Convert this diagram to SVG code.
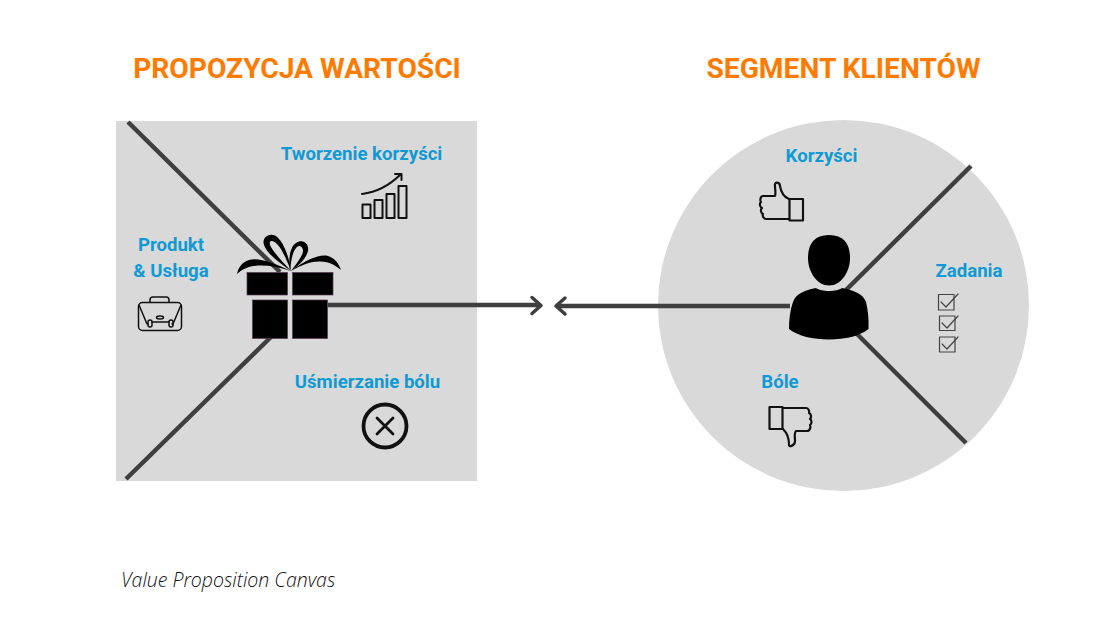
<svg xmlns="http://www.w3.org/2000/svg" width="1120" height="630" viewBox="0 0 1120 630">
<style>
.h{font-family:Roboto,"Liberation Sans",sans-serif;font-weight:700;font-size:28.200px;fill:#ff7a00;text-anchor:middle}
.l{font-family:Roboto,"Liberation Sans",sans-serif;font-weight:700;font-size:18.600px;fill:#0f9ad6;text-anchor:middle}
.c{font-family:"Open Sans","Liberation Sans",sans-serif;font-style:italic;font-weight:300;font-size:19.500px;fill:#111}
.ln{stroke:#3f3f3f;stroke-width:4.500;fill:none}
.a{stroke:#3f3f3f;stroke-width:3.500;fill:none;stroke-linecap:round;stroke-linejoin:round}
.i{stroke:#111;stroke-width:2;fill:none;stroke-linejoin:round;stroke-linecap:round}
.g{fill:#000;stroke:#5a3a55;stroke-width:.7}
</style>
<rect width="1120" height="630" fill="#fff"/>
<g id="canvas-shapes">
<rect x="116" y="121" width="361" height="360" fill="#d9d9d9"/>
<circle cx="843.500" cy="305.500" r="185.500" fill="#d9d9d9"/>
</g>
<g id="connectors">
<path class="ln" d="M128 122L280 272M126 479L273 335M328 305H539"/>
<path class="a" d="M532 297.500L541 305.500L532 313.500"/>
<path class="ln" d="M558 306H790M971 166L846 290M966 443L855 332"/>
<path class="a" d="M565 298L556 306L565 314"/>
</g>
<g id="title-value"><text class="h" x="297" y="78">PROPOZYCJA WARTOŚCI</text></g>
<g id="title-segment"><text class="h" x="843.500" y="78">SEGMENT KLIENTÓW</text></g>
<g id="gift">
<rect class="g" x="247" y="272.500" width="40.500" height="22.500"/>
<rect class="g" x="292.500" y="272.500" width="40.500" height="22.500"/>
<rect class="g" x="252.500" y="300" width="35" height="38.500"/>
<rect class="g" x="292.500" y="300" width="35" height="38.500"/>
<path fill="#000" d="M291 271C275 263 258 257 249 260C242 262 238 268 237 274C243 268 250 266 258 265.500C268 265 280 267 291 271Z"/>
<path fill="#000" d="M291 271C307 259 320 254 328 256C335 258 339 264 341 270C335 265 330 262 320 261.500C310 261 300 266 291 271Z"/>
<path fill="#000" d="M291 271C278 262 265 252 263.500 243C263 236 270 233 275 235.500C283 240 289 256 291 271C286 258 281 247 276 243C271 239.500 269 241 270 245C273 252 283 262 291 271Z"/>
<path fill="#000" d="M290 271C288 258 290 244 299 241.500C306 240 309 246 308 251C306 259 298 266 291 271C297 263 303.500 255 303 250C302 245 298 245 296 248C292 253 291 262 290 271Z"/>
</g>
<g id="tworzenie">
<text class="l" x="361.500" y="160">Tworzenie korzyści</text>
<g class="i"><rect x="362.500" y="204.500" width="8" height="13.500"/><rect x="374.500" y="200" width="8" height="18"/><rect x="386.500" y="194" width="8" height="24"/><rect x="398.500" y="186" width="8" height="32"/>
<path d="M362 194C378 192 390 185 401 174M395 174L401.500 174L401.500 180"/></g>
</g>
<g id="produkt">
<text class="l" x="171" y="251">Produkt</text>
<text class="l" x="171" y="277">&amp; Usługa</text>
<g class="i" style="stroke-width:1.500"><rect x="138.500" y="302.500" width="43" height="28" rx="4"/><path d="M150 302V300Q150 297 153 297H166Q169 297 169 300V302M139 305L147 324H148M181 305L173 324H172M152 322H169"/><rect x="148" y="320" width="4" height="7" rx="2"/><rect x="169" y="320" width="4" height="7" rx="2"/><ellipse cx="160" cy="317.500" rx="3.500" ry="1.500"/></g>
</g>
<g id="usmierzanie">
<text class="l" x="367.500" y="388">Uśmierzanie bólu</text>
<g class="i"><circle cx="385" cy="426" r="21.500" style="stroke-width:3.800"/><path d="M377 418L393 434M393 418L377 434" style="stroke-width:2.800"/></g>
</g>
<g id="korzysci">
<text class="l" x="821.500" y="162">Korzyści</text>
<g class="i" style="stroke-width:2.200"><rect x="789.500" y="199" width="13.500" height="21.500"/><path d="M789 199C784 197 781 192 780 186C780 182 774 181 775 186C775 190 776 193 775 196H763C760 196 760 201 761 202C759 204 760 207 762 208C760 210 761 213 763 214C762 216 764 219 766 219H789"/></g>
</g>
<g id="person">
<path fill="#000" d="M829 235C844 235 850 244 850 258C850 272 841 285.500 829 285.500C817 285.500 808 272 808 258C808 244 814 235 829 235Z"/>
<path fill="#000" d="M816 288C821 292 837 292 842 288C852 290 863 293 866 302C868 310 869 320 868.500 329C860 336 845 339.500 829 339.500C813 339.500 798 336 789 329C789 320 790 310 793 302C796 293 806 290 816 288Z"/>
</g>
<g id="zadania">
<text class="l" x="969" y="277">Zadania</text>
<g class="i" style="stroke-width:1.200;stroke:#444"><rect x="938.500" y="294.500" width="15.500" height="15.500"/><path d="M941 302L946 307L958 294"/><rect x="939.500" y="316" width="15.500" height="14.500"/><path d="M942 323L947 328L958 316"/><rect x="939.500" y="337" width="15.500" height="15"/><path d="M942 344L947 349L958 337"/></g>
</g>
<g id="bole">
<text class="l" x="780" y="388">Bóle</text>
<g class="i" style="stroke-width:2.200"><rect x="769.500" y="407" width="13" height="22"/><path d="M783 408H806C808 408 810 411 809 413C811 414 812 417 810 419C812 420 812 424 810 425C811 427 810 431 807 431H796C794 433 795 438 795 441C795 446 788 448 789 444C789 438 787 433 783 429"/></g>
</g>
<g id="caption"><text class="c" x="121" y="587">Value Proposition Canvas</text></g>
</svg>
